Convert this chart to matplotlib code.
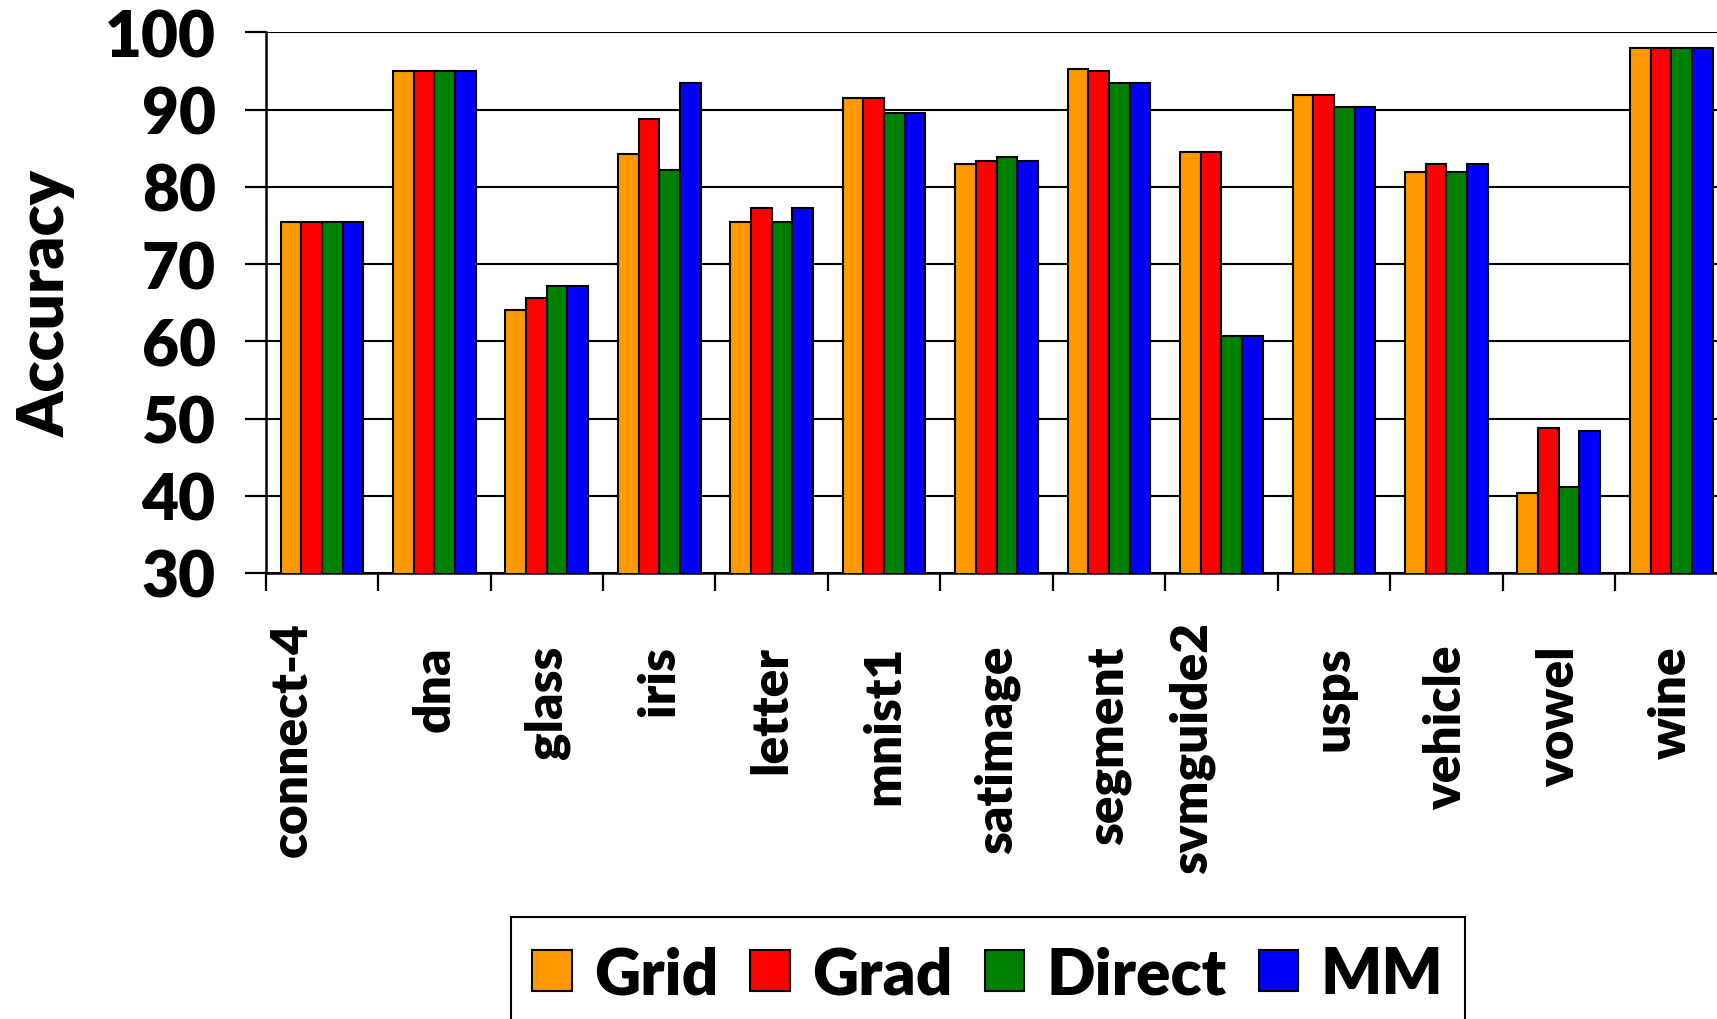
import numpy as np
import matplotlib
matplotlib.use("Agg")
import matplotlib.pyplot as plt
from matplotlib.patches import Patch

plt.rcParams["font.family"] = ["Lato", "DejaVu Sans"]
plt.rcParams["font.weight"] = "heavy"
WEIGHT = "heavy"

# Datasets and accuracy (%) per tuning method
datasets = ["connect-4", "dna", "glass", "iris", "letter", "mnist1", "satimage",
            "segment", "svmguide2", "usps", "vehicle", "vowel", "wine"]
grid   = [75.4, 95.0, 64.1, 84.2, 75.4, 91.5, 83.0, 95.3, 84.5, 91.9, 81.9, 40.4, 98.0]
grad   = [75.4, 95.0, 65.6, 88.8, 77.3, 91.5, 83.4, 95.0, 84.5, 91.9, 83.0, 48.8, 98.0]
direct = [75.4, 95.0, 67.1, 82.2, 75.4, 89.6, 83.8, 93.5, 60.7, 90.3, 81.9, 41.1, 98.0]
mm     = [75.4, 95.0, 67.1, 93.5, 77.3, 89.6, 83.4, 93.5, 60.7, 90.3, 83.0, 48.4, 98.0]

methods = ["Grid", "Grad", "Direct", "MM"]
colors = ["#FF9900", "#FF0000", "#008000", "#0000FF"]
series = [grid, grad, direct, mm]

y_ticks = [30, 40, 50, 60, 70, 80, 90, 100]

W, H = 1717, 1020
fig = plt.figure(figsize=(W / 100, H / 100), dpi=100)

# axes box in pixels: left 266, baseline 574, top 33, category width 112.4
left_px, base_px, top_px, cat_px = 265.7, 574.0, 33.3, 112.44
n = len(datasets)
ax = fig.add_axes([left_px / W, 1 - base_px / H,
                   n * cat_px / W, (base_px - top_px) / H])

bar_w = 0.184
x = np.arange(n) + 0.5
for j, (vals, c, name) in enumerate(zip(series, colors, methods)):
    ax.bar(x + (j - 1.5) * bar_w, vals, width=bar_w, color=c,
           edgecolor="black", linewidth=1.5, label=name, zorder=3)

ax.set_xlim(0, n)
ax.set_ylim(30, 100)
ax.set_yticks(y_ticks)
ax.set_yticklabels([str(v) for v in y_ticks], fontsize=46, fontweight=WEIGHT)
ax.yaxis.grid(True, color="black", linewidth=1.5, zorder=0)
ax.set_axisbelow(True)

ax.set_xticks(np.arange(n + 1))
ax.set_xticklabels([])
ax.tick_params(axis="x", direction="out", length=13, width=1.6, color="black")
ax.tick_params(axis="y", direction="out", length=15, width=1.6, color="black", pad=21)

for s in ["top", "right"]:
    ax.spines[s].set_visible(False)
for s in ["left", "bottom"]:
    ax.spines[s].set_linewidth(1.8)
    ax.spines[s].set_color("black")

# category labels below the axis; the two longest sit a bit higher and left
long_names = {"connect-4", "svmguide2"}
for i, name in enumerate(datasets):
    dx, dy = (-21.6, -34.5) if name in long_names else (0.0, -51.8)
    ax.annotate(name, xy=(i + 0.5, 0), xycoords=("data", "axes fraction"),
                xytext=(dx, dy), textcoords="offset points",
                rotation=90, ha="center", va="top",
                fontsize=37, fontweight=WEIGHT, annotation_clip=False)

fig.text(46 / W, 1 - (top_px + base_px) / 2 / H, "Accuracy", rotation=90,
         ha="center", va="center", fontsize=46, fontweight=WEIGHT)

# legend: a tiny blank title adds a little headroom above the entries
handles = [Patch(facecolor=c, edgecolor="black", linewidth=1.5) for c in colors]
leg = fig.legend(handles, methods, loc="upper left",
                 bbox_to_anchor=(511 / W, 1 - 918 / H), bbox_transform=fig.transFigure,
                 ncol=4, prop={"weight": WEIGHT, "size": 46},
                 title=" ", title_fontsize=5.4, labelspacing=0,
                 frameon=True, fancybox=False, framealpha=1, edgecolor="black",
                 handlelength=0.62, handleheight=0.62, handletextpad=0.35,
                 columnspacing=0.5, borderpad=0.33, borderaxespad=0)
leg.get_frame().set_linewidth(1.5)

fig.savefig("out.png", dpi=100)
